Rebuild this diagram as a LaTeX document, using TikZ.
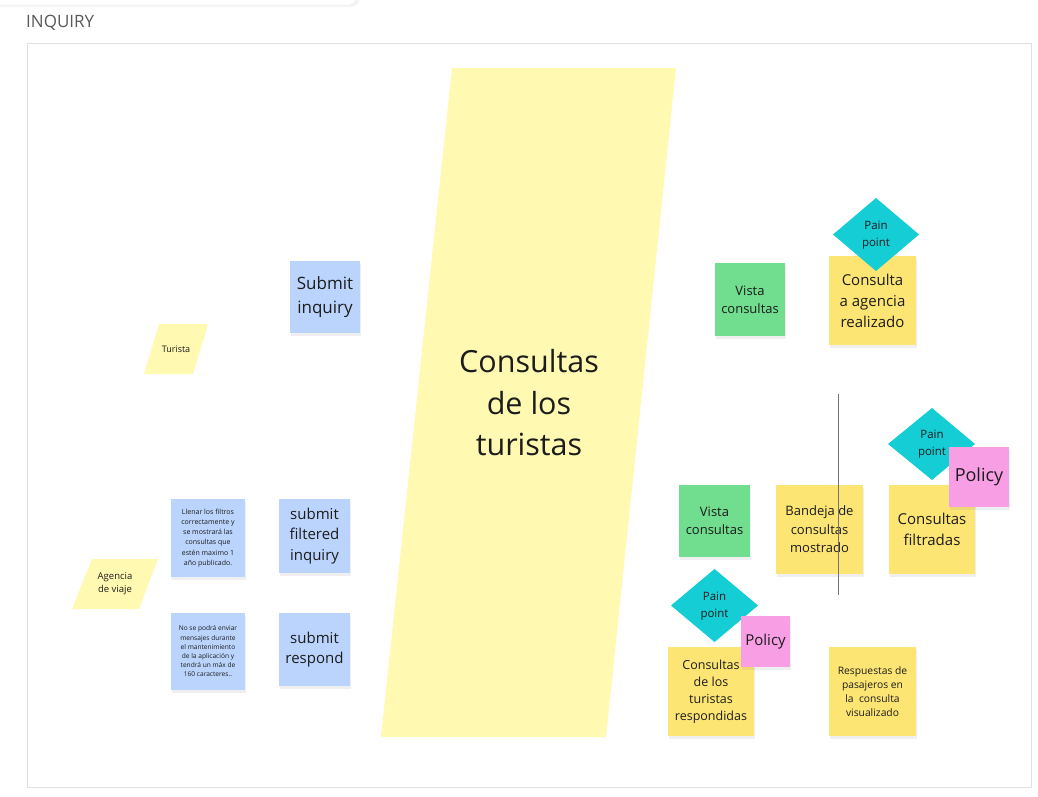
\documentclass[tikz,border=0pt]{standalone}
\usepackage{fontspec}
\setmainfont{Open Sans}
\usetikzlibrary{shadows}
\definecolor{yel}{HTML}{FDE574}
\definecolor{pale}{HTML}{FFF9B1}
\definecolor{blu}{HTML}{BAD4FD}
\definecolor{grn}{HTML}{70DE8E}
\definecolor{cyn}{HTML}{14CDD5}
\definecolor{pnk}{HTML}{F89EE4}
\definecolor{txt}{HTML}{1C1C1C}
\tikzset{
  sticky/.style={inner sep=2pt, align=center, text=txt,
    drop shadow={opacity=0.12, shadow xshift=1pt, shadow yshift=-3pt}},
  fs/.style n args={2}{font={\fontsize{#1}{#2}\selectfont}},
  lbl/.style={align=center, text=txt, inner sep=0pt}
}
\begin{document}
\begin{tikzpicture}[x=1pt,y=-1pt]
\useasboundingbox (0,0) rectangle (1038,796);
\fill[white] (0,0) rectangle (1038,796);
% top card
\draw[draw=black!10, fill=white, rounded corners=8pt,
  drop shadow={opacity=0.08, shadow yshift=-2pt}] (-20,-20) rectangle (357,5);
\node[anchor=west, text=black!65, fs={17}{20}, inner sep=0pt] (title) at (26,22.5) {INQUIRY};
\draw[black!12, line width=0.8pt] (27,43) rectangle (1031,787);

% big parallelogram
\coordinate (p1) at (452,68); \coordinate (p2) at (676,68);
\coordinate (p3) at (606,737); \coordinate (p4) at (381,737);
\fill[pale] (p1) -- (p2) -- (p3) -- (p4) -- cycle;
\node[lbl, fs={30.5}{41.5}] (big) at (529,403) {Consultas\\de los\\turistas};

% actors
\coordinate (t1) at (159,324); \coordinate (t2) at (208,324);
\coordinate (t3) at (193,374); \coordinate (t4) at (144,374);
\fill[pale] (t1) -- (t2) -- (t3) -- (t4) -- cycle;
\node[lbl, fs={9}{11}] (turista) at (176,349) {Turista};
\coordinate (a1) at (92,559); \coordinate (a2) at (158,559);
\coordinate (a3) at (139,609); \coordinate (a4) at (72,609);
\fill[pale] (a1) -- (a2) -- (a3) -- (a4) -- cycle;
\node[lbl, fs={9.5}{13}] (agencia) at (115,584) {Agencia\\de viaje};

% blue commands
\node[sticky, fill=blu, minimum width=70, minimum height=72, fs={17}{24}] (si) at (325,297) {Submit\\inquiry};
\node[sticky, fill=blu, minimum width=71, minimum height=74, fs={15}{20.5}] (sfi) at (314.5,536) {submit\\filtered\\inquiry};
\node[sticky, fill=blu, minimum width=71, minimum height=73, fs={15}{20.5}] (sr) at (314.5,649.5) {submit\\respond};
\node[sticky, fill=blu, minimum width=74, minimum height=78, fs={7}{10.3}] (n1) at (208,538) {Llenar los filtros\\correctamente y\\se mostrará las\\consultas que\\estén maximo 1\\año publicado.};
\node[sticky, fill=blu, minimum width=74, minimum height=77, fs={6.6}{9.2}] (n2) at (208,651.5) {No se podrá enviar\\mensajes durante\\el mantenimiento\\de la aplicación y\\tendrá un máx de\\160 caracteres..};

% right top
\node[sticky, fill=grn, minimum width=70, minimum height=73, fs={13}{18}] (vc1) at (750,299.5) {Vista\\consultas};
\node[sticky, fill=yel, minimum width=87, minimum height=89, fs={15}{21}] (ca) at (872.5,300.5) {Consulta\\a agencia\\realizado};
\coordinate (d1n) at (876,198); \coordinate (d1e) at (919,234.5);
\coordinate (d1s) at (876,271); \coordinate (d1w) at (833,234.5);
\fill[cyn] (d1n) -- (d1e) -- (d1s) -- (d1w) -- cycle;
\node[lbl, fs={11.5}{17}] (pp1) at (876,235.5) {Pain\\point};

% right middle
\node[sticky, fill=grn, minimum width=71, minimum height=72, fs={13}{18}] (vc2) at (714.5,521) {Vista\\consultas};
\node[sticky, fill=yel, minimum width=87, minimum height=89, fs={13}{18.5}] (bd) at (819.5,529.5) {Bandeja de\\consultas\\mostrado};
\node[sticky, fill=yel, minimum width=86, minimum height=89, fs={15}{21}] (cf) at (932,529.5) {Consultas\\filtradas};
\coordinate (d2n) at (932,408); \coordinate (d2e) at (975,444);
\coordinate (d2s) at (932,480); \coordinate (d2w) at (888,444);
\fill[cyn] (d2n) -- (d2e) -- (d2s) -- (d2w) -- cycle;
\node[lbl, fs={11.5}{17}] (pp2) at (932,444.5) {Pain\\point};
\node[sticky, fill=pnk, minimum width=60, minimum height=60, fs={18}{22}] (pol1) at (979,477) {Policy};
\coordinate (vl1) at (838,394); \coordinate (vl2) at (838,595);
\draw[black!55, line width=0.9pt] (vl1) -- (vl2);

% right bottom
\node[sticky, fill=yel, minimum width=86, minimum height=89, fs={12.5}{17}] (cr) at (711,691.5) {Consultas\\de los\\turistas\\respondidas};
\node[sticky, fill=yel, minimum width=87, minimum height=89, fs={10.3}{14}] (rp) at (872.5,691.5) {Respuestas de\\pasajeros en\\la~ consulta\\visualizado};
\coordinate (d3n) at (714.5,569); \coordinate (d3e) at (758,605.5);
\coordinate (d3s) at (714.5,642); \coordinate (d3w) at (671,605.5);
\fill[cyn] (d3n) -- (d3e) -- (d3s) -- (d3w) -- cycle;
\node[lbl, fs={11.5}{17}] (pp3) at (714.5,606) {Pain\\point};
\node[sticky, fill=pnk, minimum width=49, minimum height=51, fs={15}{20}] (pol2) at (765.5,641.5) {Policy};
\end{tikzpicture}
\end{document}
